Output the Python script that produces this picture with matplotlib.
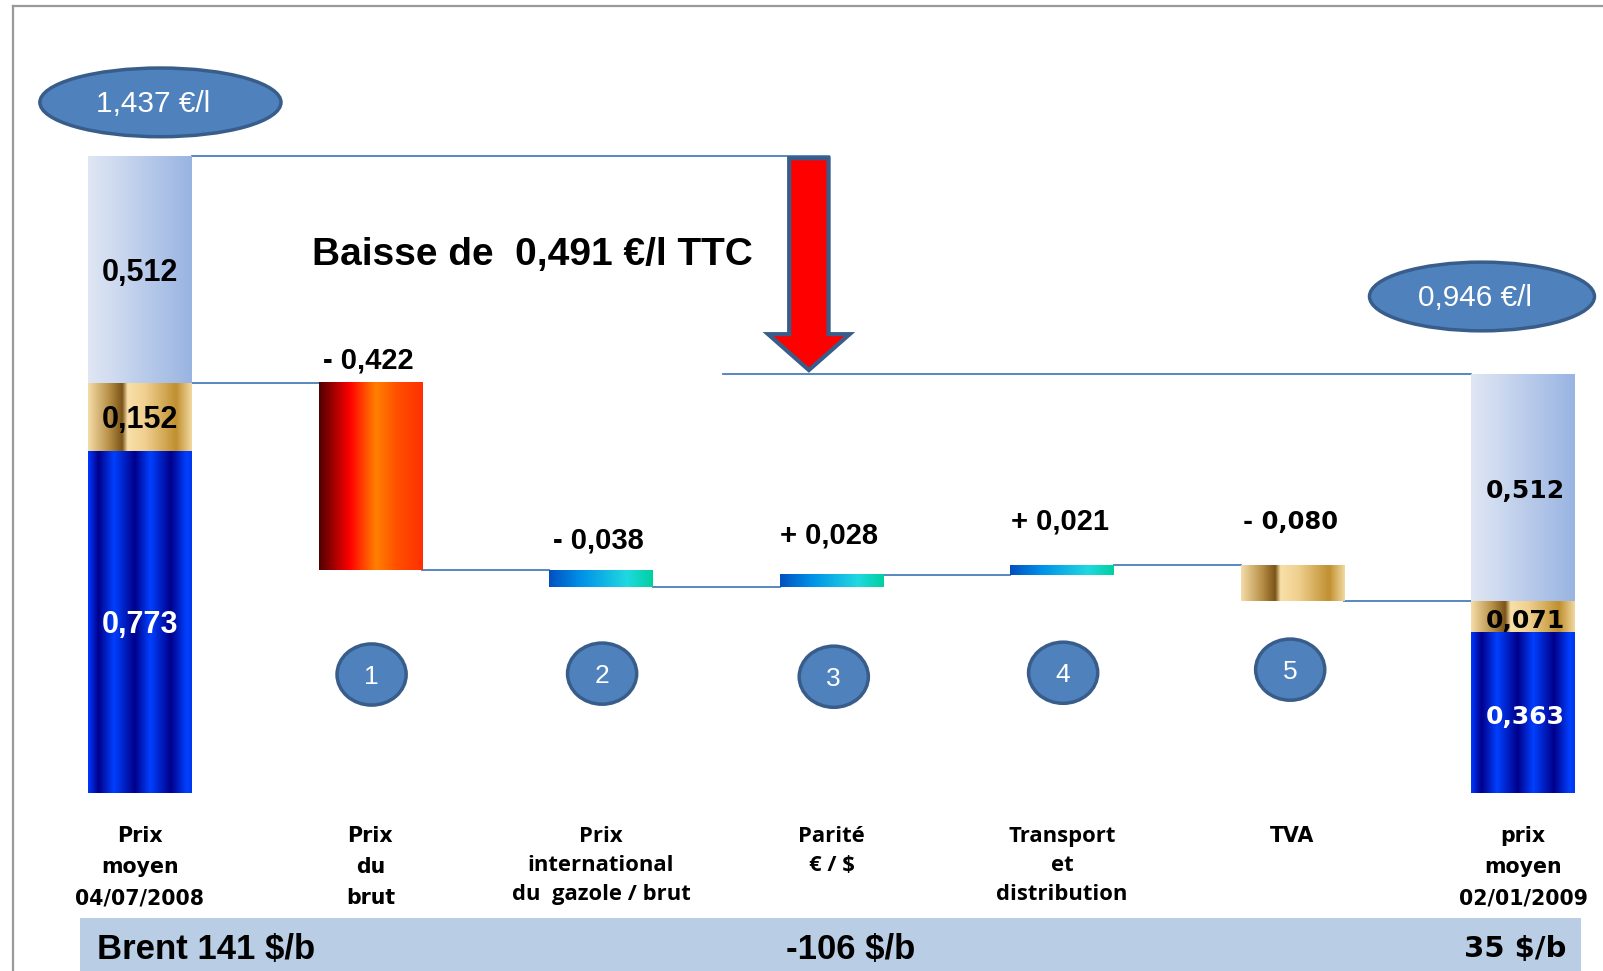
import matplotlib
matplotlib.use("Agg")
import matplotlib.pyplot as plt
import numpy as np
from matplotlib.colors import to_rgb
from matplotlib.patches import Ellipse, Rectangle, Polygon
from matplotlib.lines import Line2D

# ---- data ----
categories = ["Prix\nmoyen\n04/07/2008", "Prix\ndu\nbrut",
              "Prix\ninternational\ndu  gazole / brut", "Parité\n€ / $",
              "Transport\net\ndistribution", "TVA", "prix\nmoyen\n02/01/2009"]
start_parts = [0.773, 0.152, 0.512]   # brut+marge, TVA, TICPE
end_parts = [0.363, 0.071, 0.512]
deltas = [-0.422, -0.038, 0.028, 0.021, -0.080]
delta_labels = ["- 0,422", "- 0,038", "+ 0,028", "+ 0,021", "- 0,080"]
total_labels = ["1,437 €/l", "0,946 €/l"]
steps = ["1", "2", "3", "4", "5"]
title = "Baisse de  0,491 €/l TTC"
brent_labels = ["Brent 141 $/b", "-106 $/b", "35 $/b"]

# ---- styles ----
BLUE_RIB = [(0, "#0038ff"), (0.1, "#00008a"), (0.25, "#0040ff"), (0.45, "#00008a"),
            (0.6, "#0040ff"), (0.8, "#00008a"), (0.95, "#0040ff"), (1, "#0038f0")]
GOLD = [(0, "#f5dca8"), (0.2, "#b89048"), (0.33, "#7a5418"), (0.38, "#f8e0a8"),
        (0.55, "#f0d090"), (0.85, "#c09030"), (1, "#f0d8a0")]
LIGHT = [(0, "#e0e7f4"), (1, "#99b4e2")]
RED = [(0, "#500000"), (0.3, "#ff0000"), (0.45, "#ff5000"), (0.55, "#ff8000"),
       (0.75, "#ff5000"), (1, "#ff3000")]
CYAN = [(0, "#0050c0"), (0.3, "#0090e8"), (0.75, "#20d8e0"), (1, "#00d0a0")]
part_fills = [BLUE_RIB, GOLD, LIGHT]
delta_fills = [RED, CYAN, CYAN, CYAN, GOLD]
LINE_C = "#4a7ebb"
ELL_FACE, ELL_EDGE = "#4f81bd", "#385d8a"
W = 0.45
HW = W / 2


def gradient_bar(ax, x, bottom, height, stops, n=200):
    pos = np.linspace(0, 1, n)
    ps = [s[0] for s in stops]
    cols = np.array([to_rgb(s[1]) for s in stops])
    img = np.stack([np.interp(pos, ps, cols[:, k]) for k in range(3)], axis=-1)
    ax.imshow(img[np.newaxis, :, :], extent=(x - HW, x + HW, bottom, bottom + height),
              aspect="auto", interpolation="bilinear", zorder=2)


fig = plt.figure(figsize=(16.03, 9.71), dpi=100)
ax = fig.add_axes([0, 0, 1, 1])
ax.set_xlim(-0.607, 6.347)
ax.set_ylim(-0.401, 1.790)
ax.axis("off")

# frame
fig.add_artist(Line2D([12.5 / 1603, 12.5 / 1603], [0, 1 - 6 / 971], color="#9a9a9a", lw=1.6))
fig.add_artist(Line2D([12.5 / 1603, 1], [1 - 6 / 971, 1 - 6 / 971], color="#9a9a9a", lw=1.6))

# stacked start and end bars
last = len(categories) - 1
for xi, parts in [(0, start_parts), (last, end_parts)]:
    b = 0
    for v, fill in zip(parts, part_fills):
        gradient_bar(ax, xi, b, v, fill)
        b += v

start_total = sum(start_parts)
end_total = sum(end_parts)

# waterfall steps
level = start_parts[0] + start_parts[1]
levels = [level]
for i, d in enumerate(deltas):
    xi = i + 1
    gradient_bar(ax, xi, min(level, level + d), abs(d), delta_fills[i])
    level += d
    levels.append(level)

# connectors
ax.plot([0 + HW, 1 - HW], [levels[0], levels[0]], color=LINE_C, lw=1.3, zorder=1)
for i, d in enumerate(deltas):
    xi = i + 1
    ax.plot([xi + HW, xi + 1 - HW], [levels[i + 1], levels[i + 1]], color=LINE_C, lw=1.3, zorder=1)
ax.plot([HW, 2.99], [start_total, start_total], color=LINE_C, lw=1.3, zorder=1)
ax.plot([2.528, last - HW], [end_total, end_total], color=LINE_C, lw=1.3, zorder=1)

# values inside bars
lfont = ["Liberation Sans", "DejaVu Sans"]
b = 0
for v, c in zip(start_parts, ["white", "black", "black"]):
    ax.text(0, b + v / 2 - 0.007, f"{v:.3f}".replace(".", ","), ha="center", va="center",
            fontsize=22, fontweight="bold", color=c, family=lfont, zorder=3)
    b += v
b = 0
for v, c in zip(end_parts, ["white", "black", "black"]):
    ax.text(last + 0.01, b + v / 2 - 0.009, f"{v:.3f}".replace(".", ","), ha="center",
            va="center", fontsize=18, fontweight="bold", color=c, family="DejaVu Sans",
            zorder=3)
    b += v

# delta labels
label_off = [0.052, 0.068, 0.088, 0.099, 0.099]
for i, d in enumerate(deltas):
    top = max(levels[i], levels[i + 1])
    fam = "DejaVu Sans" if i == 4 else lfont
    fs = 17.5 if i == 4 else 21
    ax.text(i + 1 - 0.01, top + label_off[i], delta_labels[i], ha="center", va="center",
            fontsize=fs, fontweight="bold", family=fam, zorder=3)

# step circles
circle_y = [0.268, 0.270, 0.263, 0.272, 0.279]
circle_dx = [0.005, 0.005, 0.01, 0.005, -0.01]
for i, s in enumerate(steps):
    xi = i + 1 + circle_dx[i]
    ax.add_patch(Ellipse((xi, circle_y[i]), 0.30, 0.138, facecolor=ELL_FACE,
                         edgecolor=ELL_EDGE, lw=2.5, zorder=3))
    ax.text(xi, circle_y[i] - 0.005, s, ha="center", va="center", color="white",
            fontsize=19, family=lfont, zorder=4)

# total ellipses
for (x, y), lab in zip([(0.089, start_total + 0.122), (5.822, end_total + 0.175)], total_labels):
    w = 1.046 if lab == total_labels[0] else 0.976
    ax.add_patch(Ellipse((x, y), w, 0.155, facecolor=ELL_FACE, edgecolor=ELL_EDGE,
                         lw=2.5, zorder=3))
    ax.text(x - 0.03, y - 0.003, lab, ha="center", va="center", color="white",
            fontsize=21.5, family=lfont, zorder=4)

# red arrow
ax_c, sh, hh = 2.902, 0.0855, 0.177
y_top, y_head, y_tip = start_total - 0.004, 1.036, end_total + 0.009
ax.add_patch(Polygon([(ax_c - sh, y_top), (ax_c + sh, y_top), (ax_c + sh, y_head),
                      (ax_c + hh, y_head), (ax_c, y_tip), (ax_c - hh, y_head),
                      (ax_c - sh, y_head)], closed=True, facecolor="#ff0000",
                     edgecolor=ELL_EDGE, lw=3, joinstyle="miter", zorder=3))

ax.text(0.745, 1.193, title, ha="left", va="baseline", fontsize=28,
        fontweight="bold", family=lfont, zorder=3)

# category labels
for i, lab in enumerate(categories):
    mid = i in (2, 3, 4)
    fam = ["Open Sans", "DejaVu Sans"] if mid else "DejaVu Sans"
    fs = 15.8 if mid else 14.8
    ax.text(i, -0.073, lab, ha="center", va="top", fontsize=fs, fontweight="bold",
            family=fam, linespacing=1.5 if mid else 1.7, zorder=3)

# brent band
ax.add_patch(Rectangle((-0.26, -0.45), 6.512, 0.169, facecolor="#b9cde5",
                       edgecolor="none", zorder=1))
ax.text(-0.188, -0.352, brent_labels[0], ha="left", va="center", fontsize=25,
        fontweight="bold", family=lfont, zorder=3)
ax.text(3.085, -0.352, brent_labels[1], ha="center", va="center", fontsize=25,
        fontweight="bold", family=lfont, zorder=3)
ax.text(6.19, -0.352, brent_labels[2], ha="right", va="center", fontsize=21,
        fontweight="bold", family="DejaVu Sans", zorder=3)

fig.savefig("out.png", dpi=100)
